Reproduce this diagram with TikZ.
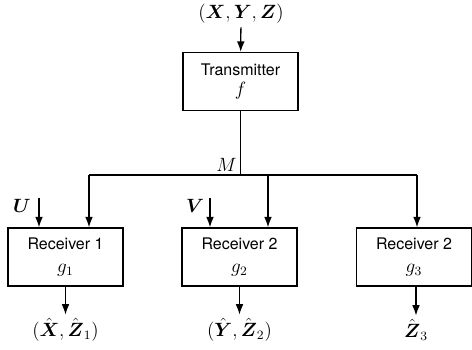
\documentclass[tikz,border=0pt]{standalone}
\usepackage{amsmath,amssymb}
\usepackage{fontspec}
\setsansfont{TeX Gyre Heros}
\usepackage{tikz}
\usetikzlibrary{arrows.meta, positioning, calc}

\begin{document}
\begin{tikzpicture}[
    x=0.625pt, y=-0.625pt,
    unit/.style={draw, line width=0.8pt, minimum width=71.9pt,
                 minimum height=36.3pt, font=\sffamily, align=center},
    io/.style={inner sep=2pt, font=\large},
    arr/.style={-{Latex[length=6.5pt,width=4.8pt]}},
    line width=0.8pt
  ]
    \useasboundingbox (0,0) rectangle (472,350);

    % Transmitter
    \node[io] (src) at (241,14) {$(\boldsymbol{X},\boldsymbol{Y},\boldsymbol{Z})$};
    \node[unit] (tx) at (240.5,81.5) {Transmitter\\[1pt] \large$f$};
    \draw[arr] (src) -- (tx);

    % Receivers
    \node[unit] (r1) at (65.5,257) {Receiver 1\\[2pt] \large$g_1$};
    \node[unit] (r2) at (239.5,257) {Receiver 2\\[2pt] \large$g_2$};
    \node[unit] (r3) at (414,257) {Receiver 2\\[2pt] \large$g_3$};

    % Bus
    \coordinate (b1) at (89,175);
    \coordinate (b2) at (268,175);
    \coordinate (b3) at (417,175);
    \draw (tx) -- (tx |- b1) node[above left, inner sep=2pt, font=\large] {$M$};
    \draw (b1) -- (b3);
    \foreach \i in {1,2,3}
      \draw[arr] (b\i) -- (b\i |- r\i.north);

    % Side information
    \node[io] (u) at (22,206) {$\boldsymbol{U}$};
    \coordinate (uin) at (39,198);
    \draw[arr] (uin) -- (uin |- r1.north);
    \node[io] (v) at (195,206) {$\boldsymbol{V}$};
    \coordinate (vin) at (210,198);
    \draw[arr] (vin) -- (vin |- r2.north);

    % Outputs
    \node[io] (out1) at (65.5,330) {$(\hat{\boldsymbol{X}},\hat{\boldsymbol{Z}}_1)$};
    \node[io] (out2) at (239.5,330) {$(\hat{\boldsymbol{Y}},\hat{\boldsymbol{Z}}_2)$};
    \node[io] (out3) at (416,330) {$\hat{\boldsymbol{Z}}_3$};
    \draw[arr] (r1) -- (out1);
    \draw[arr] (r2) -- (out2);
    \draw[arr] (r3.south -| out3) -- (out3);
  \end{tikzpicture}
\end{document}
